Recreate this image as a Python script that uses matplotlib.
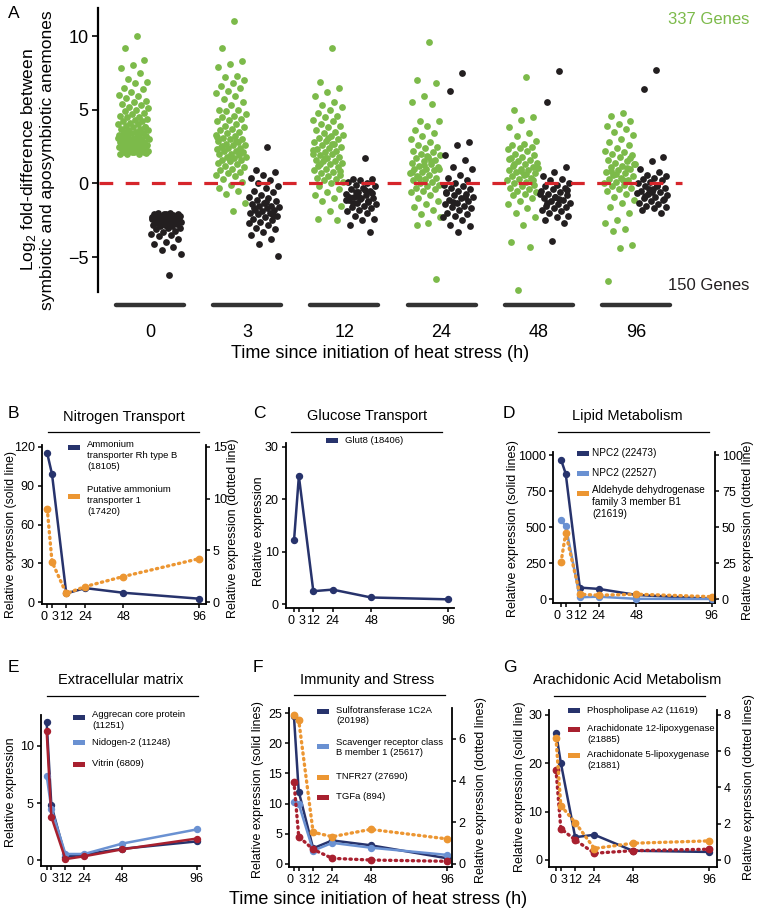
import matplotlib
matplotlib.use('Agg')
import matplotlib.pyplot as plt
from matplotlib.lines import Line2D
from matplotlib.patches import Rectangle
import numpy as np

plt.rcParams['font.family'] = ['Liberation Sans', 'DejaVu Sans']
plt.rcParams['mathtext.fontset'] = 'custom'
plt.rcParams['mathtext.rm'] = 'Liberation Sans'

W, H = 757, 919

# ---------------- panel A: log2 fold differences per gene ----------------
time_labels = ['0', '3', '12', '24', '48', '96']

up_0 = [10.0, 9.2, 8.4, 8.0, 7.8, 7.5, 7.1, 6.9, 6.8, 6.5, 6.4, 6.2, 6.0, 5.9, 5.8, 5.6, 5.5, 5.4,
        5.3, 5.2, 5.1, 5.0, 4.9, 4.8, 4.7, 4.6, 4.5, 4.5, 4.4, 4.3, 4.2, 4.2, 4.1, 4.0, 4.0, 3.9,
        3.8, 3.8, 3.7, 3.7, 3.6, 3.6, 3.5, 3.5, 3.4, 3.4, 3.3, 3.3, 3.2, 3.2, 3.1, 3.1, 3.0, 3.0,
        3.0, 2.9, 2.9, 2.8, 2.8, 2.8, 2.7, 2.7, 2.6, 2.6, 2.6, 2.5, 2.5, 2.5, 2.4, 2.4, 2.4, 2.3,
        2.3, 2.3, 2.2, 2.2, 2.2, 2.1, 2.1, 2.1, 2.0, 2.0, 2.0, 2.05, 2.15, 2.35, 2.45, 2.55, 3.05,
        3.15, 3.45, 3.85]
down_0 = [-2.0, -2.0, -2.05, -2.1, -2.1, -2.15, -2.2, -2.2, -2.25, -2.3, -2.3, -2.35, -2.4, -2.4,
          -2.45, -2.5, -2.5, -2.55, -2.6, -2.6, -2.65, -2.7, -2.7, -2.75, -2.8, -2.8, -2.9, -2.9,
          -3.0, -3.0, -3.1, -3.2, -3.3, -3.4, -3.5, -3.6, -3.8, -4.0, -4.1, -4.3, -4.5, -4.8, -6.2,
          -2.15, -2.35, -2.05, -2.25, -2.45]
up_3 = [11.0, 9.2, 8.3, 8.1, 7.9, 7.3, 7.2, 7.0, 6.8, 6.6, 6.5, 6.3, 6.1, 5.9, 5.7, 5.5, 5.3, 5.0,
        5.0, 4.9, 4.7, 4.6, 4.5, 4.4, 4.3, 4.2, 4.0, 3.9, 3.8, 3.7, 3.6, 3.5, 3.4, 3.3, 3.2, 3.1,
        3.0, 3.0, 2.9, 2.8, 2.7, 2.6, 2.6, 2.5, 2.4, 2.4, 2.3, 2.2, 2.2, 2.1, 2.0, 2.0, 1.9, 1.8,
        1.8, 1.7, 1.6, 1.6, 1.5, 1.4, 1.3, 1.2, 1.1, 1.0, 0.9, 0.8, 0.7, 0.6, 0.5, 0.3, 0.1, -0.1,
        -0.3, -0.5, -0.7, -1.3, -1.9, 2.55, 2.15, 1.75, 3.15, 2.85]
down_3 = [2.5, 0.9, 0.8, 0.6, 0.4, 0.2, 0.0, -0.2, -0.3, -0.5, -0.6, -0.8, -0.9, -1.0, -1.1, -1.2,
          -1.3, -1.4, -1.5, -1.5, -1.6, -1.7, -1.8, -1.8, -1.9, -2.0, -2.0, -2.1, -2.2, -2.3, -2.4,
          -2.5, -2.6, -2.7, -2.8, -3.0, -3.1, -3.3, -3.5, -3.8, -4.1, -4.9, -1.25, -1.65, -2.15]
up_12 = [9.2, 6.9, 6.5, 6.2, 5.9, 5.5, 5.3, 5.2, 5.0, 4.8, 4.6, 4.5, 4.3, 4.2, 4.0, 3.9, 3.8, 3.6,
         3.5, 3.4, 3.3, 3.2, 3.1, 3.0, 2.9, 2.8, 2.7, 2.6, 2.5, 2.4, 2.3, 2.2, 2.1, 2.0, 2.0, 1.9,
         1.8, 1.7, 1.6, 1.5, 1.5, 1.4, 1.3, 1.2, 1.1, 1.0, 0.9, 0.8, 0.7, 0.6, 0.5, 0.4, 0.3, 0.2,
         0.1, 0.0, -0.2, -0.4, -0.6, -0.8, -1.0, -1.2, -1.5, -1.9, -2.4, -2.5, 1.75, 2.25, 2.65,
         1.35, 0.85, 3.05]
down_12 = [1.7, 0.3, 0.3, 0.2, 0.1, 0.0, -0.1, -0.2, -0.3, -0.4, -0.5, -0.6, -0.7, -0.8, -0.9,
           -1.0, -1.0, -1.1, -1.2, -1.3, -1.4, -1.5, -1.6, -1.7, -1.8, -1.9, -2.0, -2.2, -2.4,
           -2.5, -2.8, -3.3, -0.85, -1.15, -0.45, -1.35, -0.65, -1.05, -0.95, -1.25, -0.55]
up_24 = [9.6, 7.0, 6.8, 5.9, 5.5, 5.4, 4.2, 4.2, 3.9, 3.6, 3.4, 3.2, 3.0, 2.8, 2.6, 2.5, 2.4, 2.2,
         2.1, 2.0, 1.9, 1.8, 1.7, 1.6, 1.5, 1.4, 1.3, 1.2, 1.1, 1.0, 1.0, 0.9, 0.8, 0.7, 0.6, 0.5,
         0.4, 0.3, 0.2, 0.1, 0.0, -0.1, -0.2, -0.3, -0.4, -0.5, -0.6, -0.8, -1.0, -1.2, -1.4, -1.6,
         -1.8, -2.1, -2.3, -2.7, -2.8, -6.5, 1.25, 0.75, 1.55, 0.35, 0.95, 1.85]
down_24 = [7.5, 6.3, 2.8, 2.6, 1.9, 1.6, 1.1, 1.0, 0.6, 0.4, 0.2, 0.0, -0.1, -0.2, -0.3, -0.4,
           -0.5, -0.6, -0.7, -0.8, -0.9, -1.0, -1.1, -1.2, -1.3, -1.4, -1.5, -1.6, -1.7, -1.8,
           -2.0, -2.1, -2.2, -2.3, -2.5, -2.8, -2.9, -3.3, -0.65, -0.95, -1.25]
up_48 = [7.2, 5.0, 4.5, 4.3, 3.8, 3.4, 3.2, 2.9, 2.7, 2.6, 2.5, 2.4, 2.3, 2.2, 2.0, 1.9, 1.8, 1.7,
         1.6, 1.5, 1.4, 1.3, 1.2, 1.1, 1.0, 0.9, 0.9, 0.8, 0.7, 0.6, 0.5, 0.4, 0.3, 0.2, 0.1, 0.0,
         -0.1, -0.2, -0.3, -0.4, -0.5, -0.6, -0.7, -0.8, -1.0, -1.2, -1.4, -1.7, -2.0, -2.3, -2.8,
         -4.0, -4.3, -7.2, 1.05, 0.65, 1.35, 0.25, 0.85, 1.65]
down_48 = [7.6, 5.5, 1.1, 0.8, 0.5, 0.3, 0.2, 0.0, -0.1, -0.2, -0.3, -0.4, -0.5, -0.6, -0.7, -0.8,
           -0.9, -1.0, -1.1, -1.2, -1.3, -1.4, -1.5, -1.6, -1.7, -1.8, -1.9, -2.0, -2.2, -2.3,
           -2.5, -2.7, -3.9, -0.75, -1.05, -1.35, -0.45, -0.95]
up_96 = [4.8, 4.6, 4.2, 4.0, 3.9, 3.7, 3.5, 3.3, 3.0, 2.8, 2.6, 2.4, 2.2, 2.1, 2.0, 1.9, 1.8, 1.6,
         1.5, 1.4, 1.3, 1.2, 1.1, 1.0, 0.9, 0.8, 0.7, 0.6, 0.5, 0.4, 0.3, 0.2, 0.1, 0.0, -0.1, -0.2,
         -0.3, -0.4, -0.5, -0.7, -0.9, -1.1, -1.3, -1.6, -2.0, -2.5, -2.7, -3.1, -3.2, -4.2, -4.4,
         -6.6, 1.05, 0.65, 1.35, 0.25, 0.85, 1.75]
down_96 = [7.7, 6.4, 1.8, 1.5, 1.0, 0.8, 0.6, 0.5, 0.4, 0.3, 0.2, 0.1, 0.0, -0.1, -0.2, -0.3, -0.4,
           -0.5, -0.6, -0.7, -0.8, -0.9, -1.0, -1.1, -1.2, -1.3, -1.4, -1.5, -1.6, -1.7, -1.8,
           -2.0, -0.35, -0.65, -0.15, -0.85, -1.05, -0.55]

up_genes = [up_0, up_3, up_12, up_24, up_48, up_96]
down_genes = [down_0, down_3, down_12, down_24, down_48, down_96]

# ---------------- panels B-G: relative expression ----------------
hours = [0, 3, 12, 24, 48, 96]
hour_labels = ['0', '3', '12', '24', '48', '96']

rhb = [115, 99, 6.7, 10.8, 7.2, 2.6]
amt1 = [9.0, 3.9, 0.83, 1.5, 2.47, 4.2]
glut8 = [12.2, 24.4, 2.5, 2.8, 1.3, 0.95]
npc2_a = [970, 873, 81, 72, 30, 3]
npc2_b = [550, 508, 14, 18, 3, 2]
aldh = [25.6, 46, 3.5, 2.8, 3.5, 1.8]
aggrecan = [12.1, 4.8, 0.3, 0.5, 1.0, 1.65]
nidogen = [7.4, 4.5, 0.55, 0.55, 1.45, 2.7]
vitrin = [11.3, 3.8, 0.1, 0.35, 0.95, 1.9]
sult = [24.5, 12.0, 2.6, 3.9, 3.1, 0.94]
scarb1 = [10.3, 9.95, 2.2, 3.5, 2.7, 1.5]
tnfr27 = [7.12, 6.9, 1.52, 1.31, 1.66, 1.2]
tgfa = [3.95, 1.31, 0.7, 0.27, 0.19, 0.13]
pla2 = [26.3, 20.1, 4.7, 5.2, 1.9, 1.65]
alox12 = [4.96, 1.73, 1.1, 0.37, 0.51, 0.59]
alox5 = [6.71, 3.0, 2.06, 0.63, 0.92, 1.05]

green = '#7cba4a'
dark = '#231f20'
red = '#d6252b'
navy = '#27336c'
light = '#6a91d2'
orange = '#ec9632'
crimson = '#a8202f'


def box(x0, y0, x1, y1):
    return [x0 / W, 1 - y1 / H, (x1 - x0) / W, (y1 - y0) / H]


def ftext(x, y, s, **kw):
    fig.text(x / W, 1 - y / H, s, **kw)


def solid(ax, y, c):
    ax.plot(hours, y, color=c, lw=1.8, marker='o', ms=4.3, zorder=3, clip_on=False)


def dotted(ax, y, c):
    ax.plot(hours, y, color=c, lw=2.4, ls=(0, (0.4, 1.3)), dash_capstyle='round',
            marker='o', ms=4.6, zorder=2, clip_on=False)


def setup(ax, xlim, ylim, yticks):
    ax.set_xlim(xlim)
    ax.set_ylim(ylim)
    ax.set_yticks(yticks)
    ax.set_xticks(hours)
    ax.set_xticklabels(hour_labels)
    for s in ['top', 'right']:
        ax.spines[s].set_visible(False)
    for s in ['left', 'bottom']:
        ax.spines[s].set_linewidth(1.3)
    ax.tick_params(direction='out', length=3, width=1.1, labelsize=9, pad=2)
    labs = ax.get_xticklabels()
    labs[0].set_horizontalalignment('right')
    labs[1].set_horizontalalignment('left')


def twin(ax, ylim, yticks):
    ax2 = ax.twinx()
    ax2.set_ylim(ylim)
    ax2.set_yticks(yticks)
    for s in ['top', 'left', 'bottom']:
        ax2.spines[s].set_visible(False)
    ax2.spines['right'].set_linewidth(1.3)
    ax2.tick_params(direction='out', length=3, width=1.1, labelsize=9, pad=2)
    return ax2


def heading(label, lx, ly, title, tx, ty, x0, x1, yl):
    ftext(lx, ly, label, fontsize=12.5, ha='left', va='center')
    ftext(tx, ty, title, fontsize=10.5, ha='center', va='center')
    fig.add_artist(Line2D([x0 / W, x1 / W], [1 - yl / H] * 2, color='black', lw=0.9))


def key(x0, yp, c, text, ytext, size=6.8, gap=19):
    fig.add_artist(Rectangle((x0 / W, 1 - (yp + 2.5) / H), 12 / W, 5 / H, color=c, lw=0,
                             transform=fig.transFigure))
    ftext(x0 + gap, ytext - 5, text, fontsize=size, ha='left', va='top', linespacing=1.25)


def ylab(x, y, s, size=9.0):
    ftext(x, y, s, fontsize=size, rotation=90, ha='center', va='center')


fig = plt.figure(figsize=(W / 100, H / 100), dpi=100)

# ---------- A ----------
axA = fig.add_axes(box(98, 8, 690, 305))
for i in range(6):
    u = up_genes[i]
    d = down_genes[i]
    ju = (np.arange(1, len(u) + 1) * 0.618034) % 1
    jd = (np.arange(1, len(d) + 1) * 0.618034) % 1
    axA.scatter(i - 0.33 + 0.32 * ju, u, s=24, color=green, lw=0, zorder=2)
    axA.scatter(i + 0.01 + 0.32 * jd, d, s=24, color=dark, lw=0, zorder=2)
    axA.plot([i - 0.35, i + 0.35], [-8.25, -8.25], color='#333333', lw=3.2,
             solid_capstyle='round', clip_on=False)
axA.hlines(0, -0.52, 5.47, colors=red, linestyles=(0, (4.3, 3.9)), lw=2.3, zorder=3)
axA.set_xlim(-0.535, 5.556)
axA.set_ylim(-8.25, 11.9)
for s in ['top', 'right', 'bottom']:
    axA.spines[s].set_visible(False)
axA.spines['left'].set_bounds(-7.4, 11.9)
axA.spines['left'].set_linewidth(1.6)
axA.set_yticks([-5, 0, 5, 10])
axA.set_yticklabels(['\u22125', '0', '5', '10'])
axA.set_xticks(range(6))
axA.set_xticklabels(time_labels)
axA.tick_params(axis='y', direction='out', length=4, width=1.2, labelsize=13, pad=3)
axA.tick_params(axis='x', length=0, labelsize=13, pad=14)
ftext(8, 13, 'A', fontsize=12.5, ha='left', va='center')
ftext(37, 160, 'Log$_2$ fold-difference between\nsymbiotic and aposymbiotic anemones',
      fontsize=12.5, rotation=90, ha='center', va='center', linespacing=1.15)
ftext(380, 353, 'Time since initiation of heat stress (h)', fontsize=13, ha='center', va='center')
ftext(749, 19, '337 Genes', fontsize=12, color=green, ha='right', va='center')
ftext(749, 286, '150 Genes', fontsize=12, color=dark, ha='right', va='center')

# ---------- B ----------
axB = fig.add_axes(box(41.7, 445, 205.7, 604))
setup(axB, (-3.5, 100), (-1.5, 121.5), [0, 30, 60, 90, 120])
axB2 = twin(axB, (-1.5 / 8, 121.5 / 8), [0, 5, 10, 15])
solid(axB, rhb, navy)
dotted(axB2, amt1, orange)
heading('B', 8, 413, 'Nitrogen Transport', 123.5, 417, 48, 199, 432)
key(68, 447.7, navy, 'Ammonium\ntransporter Rh type B\n(18105)', 445)
key(68, 496.7, orange, 'Putative ammonium\ntransporter 1\n(17420)', 490)
ylab(11, 534, 'Relative expression (solid line)', 8.8)
ylab(233, 528, 'Relative expression (dotted line)')

# ---------- C ----------
axC = fig.add_axes(box(285.7, 443, 454, 608))
setup(axC, (-5.2, 99.6), (-0.7, 30.7), [0, 10, 20, 30])
solid(axC, glut8, navy)
heading('C', 253, 413, 'Glucose Transport', 367, 416, 291, 442, 432)
key(326, 441, navy, 'Glut8 (18406)', 441)
ylab(259, 531, 'Relative expression')

# ---------- D ----------
axD = fig.add_axes(box(553.3, 451.7, 715, 603.3))
setup(axD, (-4.9, 98.1), (-28, 1025), [0, 250, 500, 750, 1000])
axD2 = twin(axD, (-2.8, 102.5), [0, 25, 50, 75, 100])
solid(axD, npc2_a, navy)
solid(axD, npc2_b, light)
dotted(axD2, aldh, orange)
heading('D', 503, 413, 'Lipid Metabolism', 627, 416, 558, 709, 432)
key(577, 453, navy, 'NPC2 (22473)', 453, 7.2, 15)
key(577, 473.3, light, 'NPC2 (22527)', 473.3, 7.2, 15)
key(577, 494, orange, 'Aldehyde dehydrogenase\nfamily 3 member B1\n(21619)', 490, 7.2, 15)
ylab(513, 529, 'Relative expression (solid lines)')
ylab(748, 530, 'Relative expression (dotted line)')

# ---------- E ----------
axE = fig.add_axes(box(40.7, 715, 200, 866))
setup(axE, (-3.8, 98), (-0.5, 12.7), [0, 5, 10])
solid(axE, aggrecan, navy)
solid(axE, nidogen, light)
solid(axE, vitrin, crimson)
heading('E', 8, 667, 'Extracellular matrix', 121, 680, 47, 198, 696)
key(73, 717.3, navy, 'Aggrecan core protein\n(11251)', 715)
key(73, 742.7, light, 'Nidogen-2 (11248)', 742.7)
key(73, 764, crimson, 'Vitrin (6809)', 764)
ylab(11, 792, 'Relative expression')

# ---------- F ----------
axF = fig.add_axes(box(289.3, 708.3, 451.7, 866.7))
setup(axF, (-2.9, 98.7), (-0.45, 25.8), [0, 5, 10, 15, 20, 25])
axF2 = twin(axF, (-0.45 / 3.457, 25.8 / 3.457), [0, 2, 4, 6])
solid(axF, sult, navy)
solid(axF, scarb1, light)
dotted(axF2, tnfr27, orange)
dotted(axF2, tgfa, crimson)
heading('F', 253, 667, 'Immunity and Stress', 367, 680, 294, 445, 695)
key(317, 711.7, navy, 'Sulfotransferase 1C2A\n(20198)', 710.7)
key(317, 746.7, light, 'Scavenger receptor class\nB member 1 (25617)', 742.7)
key(317, 777.3, orange, 'TNFR27 (27690)', 777.3)
key(317, 797.3, crimson, 'TGFa (894)', 797.3)
ylab(258, 790, 'Relative expression (solid lines)')
ylab(481, 790, 'Relative expression (dotted lines)')

# ---------- G ----------
axG = fig.add_axes(box(549.3, 710, 716.7, 866.7))
setup(axG, (-4.2, 100.6), (-1.4, 31), [0, 10, 20, 30])
axG2 = twin(axG, (-1.4 * 8 / 30, 31 * 8 / 30), [0, 2, 4, 6, 8])
solid(axG, pla2, navy)
dotted(axG2, alox12, crimson)
dotted(axG2, alox5, orange)
heading('G', 503, 667, 'Arachidonic Acid Metabolism', 627, 680, 554, 705, 696)
key(568, 710.7, navy, 'Phospholipase A2 (11619)', 710.7)
key(568, 729.3, crimson, 'Arachidonate 12-lipoxygenase\n(21885)', 729.3)
key(568, 755, orange, 'Arachidonate 5-lipoxygenase\n(21881)', 755)
ylab(520, 787, 'Relative expression (solid line)')
ylab(749, 787, 'Relative expression (dotted lines)')

ftext(378, 900, 'Time since initiation of heat stress (h)', fontsize=13, ha='center', va='center')

fig.savefig('out.png', dpi=100)
